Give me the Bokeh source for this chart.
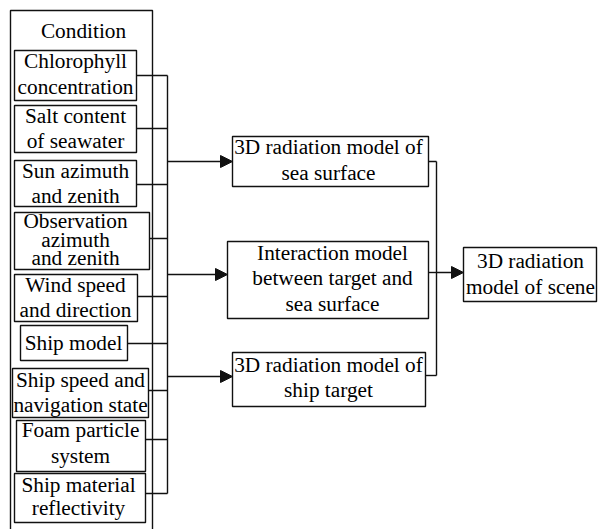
from bokeh.plotting import figure
from bokeh.models import Range1d, Arrow, NormalHead, ColumnDataSource
from bokeh.core.properties import value
from bokeh.embed import file_html
from bokeh.resources import INLINE

# ---- content (texts of the diagram) ----
group_title = "Condition"
factor_lines = [
    ["Chlorophyll", "concentration"],
    ["Salt content", "of seawater"],
    ["Sun azimuth", "and zenith"],
    ["Observation", "azimuth", "and zenith"],
    ["Wind speed", "and direction"],
    ["Ship model"],
    ["Ship speed and", "navigation state"],
    ["Foam particle", "system"],
    ["Ship material", "reflectivity"],
]
model_lines = [
    ["3D radiation model of", "sea surface"],
    ["Interaction model", "between target and", "sea surface"],
    ["3D radiation model of", "ship target"],
]
scene_lines = ["3D radiation", "model of scene"]

# ---- layout (screen-pixel geometry) ----
factor_boxes = [  # left, right, top, bottom
    (14, 136, 50, 100), (14, 136, 105, 152), (14, 136, 160, 206),
    (14, 149, 212, 269), (14, 137, 274, 321), (20, 127, 325, 360),
    (12, 148, 368, 417), (16, 145, 420, 471), (14, 145, 473, 522),
]
factor_cx = [75, 75, 75, 75, 75, 73, 80, 80, 78]
factor_base = [[68, 94], [123, 148], [178, 203], [228, 247, 265], [292, 317],
               [350], [387, 412], [437, 463], [492, 515]]
factor_link_y = [75, 128, 184, 238, 296, 343, 390, 439, 493]
bus_x = 167
outer_box = (10, 152, 10, 545)
title_pos = (83, 38)

model_boxes = [(232, 428, 136, 186), (227, 428, 241, 318), (232, 425, 352, 406)]
model_cx = [328, 332, 328]
model_base = [[154, 180], [260, 285, 311], [372, 397]]
model_in_y = [161, 274, 376]
model_out_y = [161, 272, 375]
join_x = 436
scene_box = (463, 596, 247, 301)
scene_cx = 530
scene_base = [268, 294]

BASE_SHIFT = -7.5  # renderer places "alphabetic" text lower than the given y

FONT = value("Liberation Serif")
FS = "21.3px"
LC = "#111111"
LW = 1.4

p = figure(width=598, height=529, x_range=Range1d(0, 598), y_range=Range1d(529, 0),
           output_backend="svg", toolbar_location=None, min_border=0,
           x_axis_type=None, y_axis_type=None)
p.grid.visible = False
p.outline_line_color = None
p.background_fill_color = "white"
p.border_fill_color = "white"

# boxes
all_boxes = [outer_box] + factor_boxes + model_boxes + [scene_box]
bsrc = ColumnDataSource(dict(
    left=[b[0] for b in all_boxes], right=[b[1] for b in all_boxes],
    top=[b[2] for b in all_boxes], bottom=[b[3] for b in all_boxes]))
p.quad(left="left", right="right", top="top", bottom="bottom", source=bsrc,
       fill_color=None, line_color=LC, line_width=LW)

# connectors: factor boxes -> bus
x0 = [b[1] for b in factor_boxes]
p.segment(x0=x0, y0=factor_link_y, x1=[bus_x] * len(x0), y1=factor_link_y,
          line_color=LC, line_width=LW)
p.segment(x0=[bus_x], y0=[min(factor_link_y)], x1=[bus_x], y1=[max(factor_link_y)],
          line_color=LC, line_width=LW)

# model outputs -> join line
p.segment(x0=[b[1] for b in model_boxes], y0=model_out_y,
          x1=[join_x] * 3, y1=model_out_y, line_color=LC, line_width=LW)
p.segment(x0=[join_x], y0=[min(model_out_y)], x1=[join_x], y1=[max(model_out_y)],
          line_color=LC, line_width=LW)

# arrows
asrc = ColumnDataSource(dict(
    xs=[bus_x] * 3 + [join_x],
    ys=model_in_y + [model_out_y[1]],
    xe=[b[0] for b in model_boxes] + [scene_box[0]],
    ye=model_in_y + [model_out_y[1]]))
p.add_layout(Arrow(end=NormalHead(size=12, fill_color=LC, line_color=LC, line_width=1),
                   x_start="xs", y_start="ys", x_end="xe", y_end="ye", source=asrc,
                   line_color=LC, line_width=LW))

# texts
tx, ty, tt = [title_pos[0]], [title_pos[1]], [group_title]
for lines, cx, bases in zip(factor_lines, factor_cx, factor_base):
    for s, b in zip(lines, bases):
        tx.append(cx); ty.append(b); tt.append(s)
for lines, cx, bases in zip(model_lines, model_cx, model_base):
    for s, b in zip(lines, bases):
        tx.append(cx); ty.append(b); tt.append(s)
for s, b in zip(scene_lines, scene_base):
    tx.append(scene_cx); ty.append(b); tt.append(s)
ty = [y + BASE_SHIFT for y in ty]

p.text(x=tx, y=ty, text=tt, text_font=FONT, text_font_size=FS, text_color="black",
       text_align="center", text_baseline="alphabetic")

open("out.html", "w").write(file_html(p, INLINE))
